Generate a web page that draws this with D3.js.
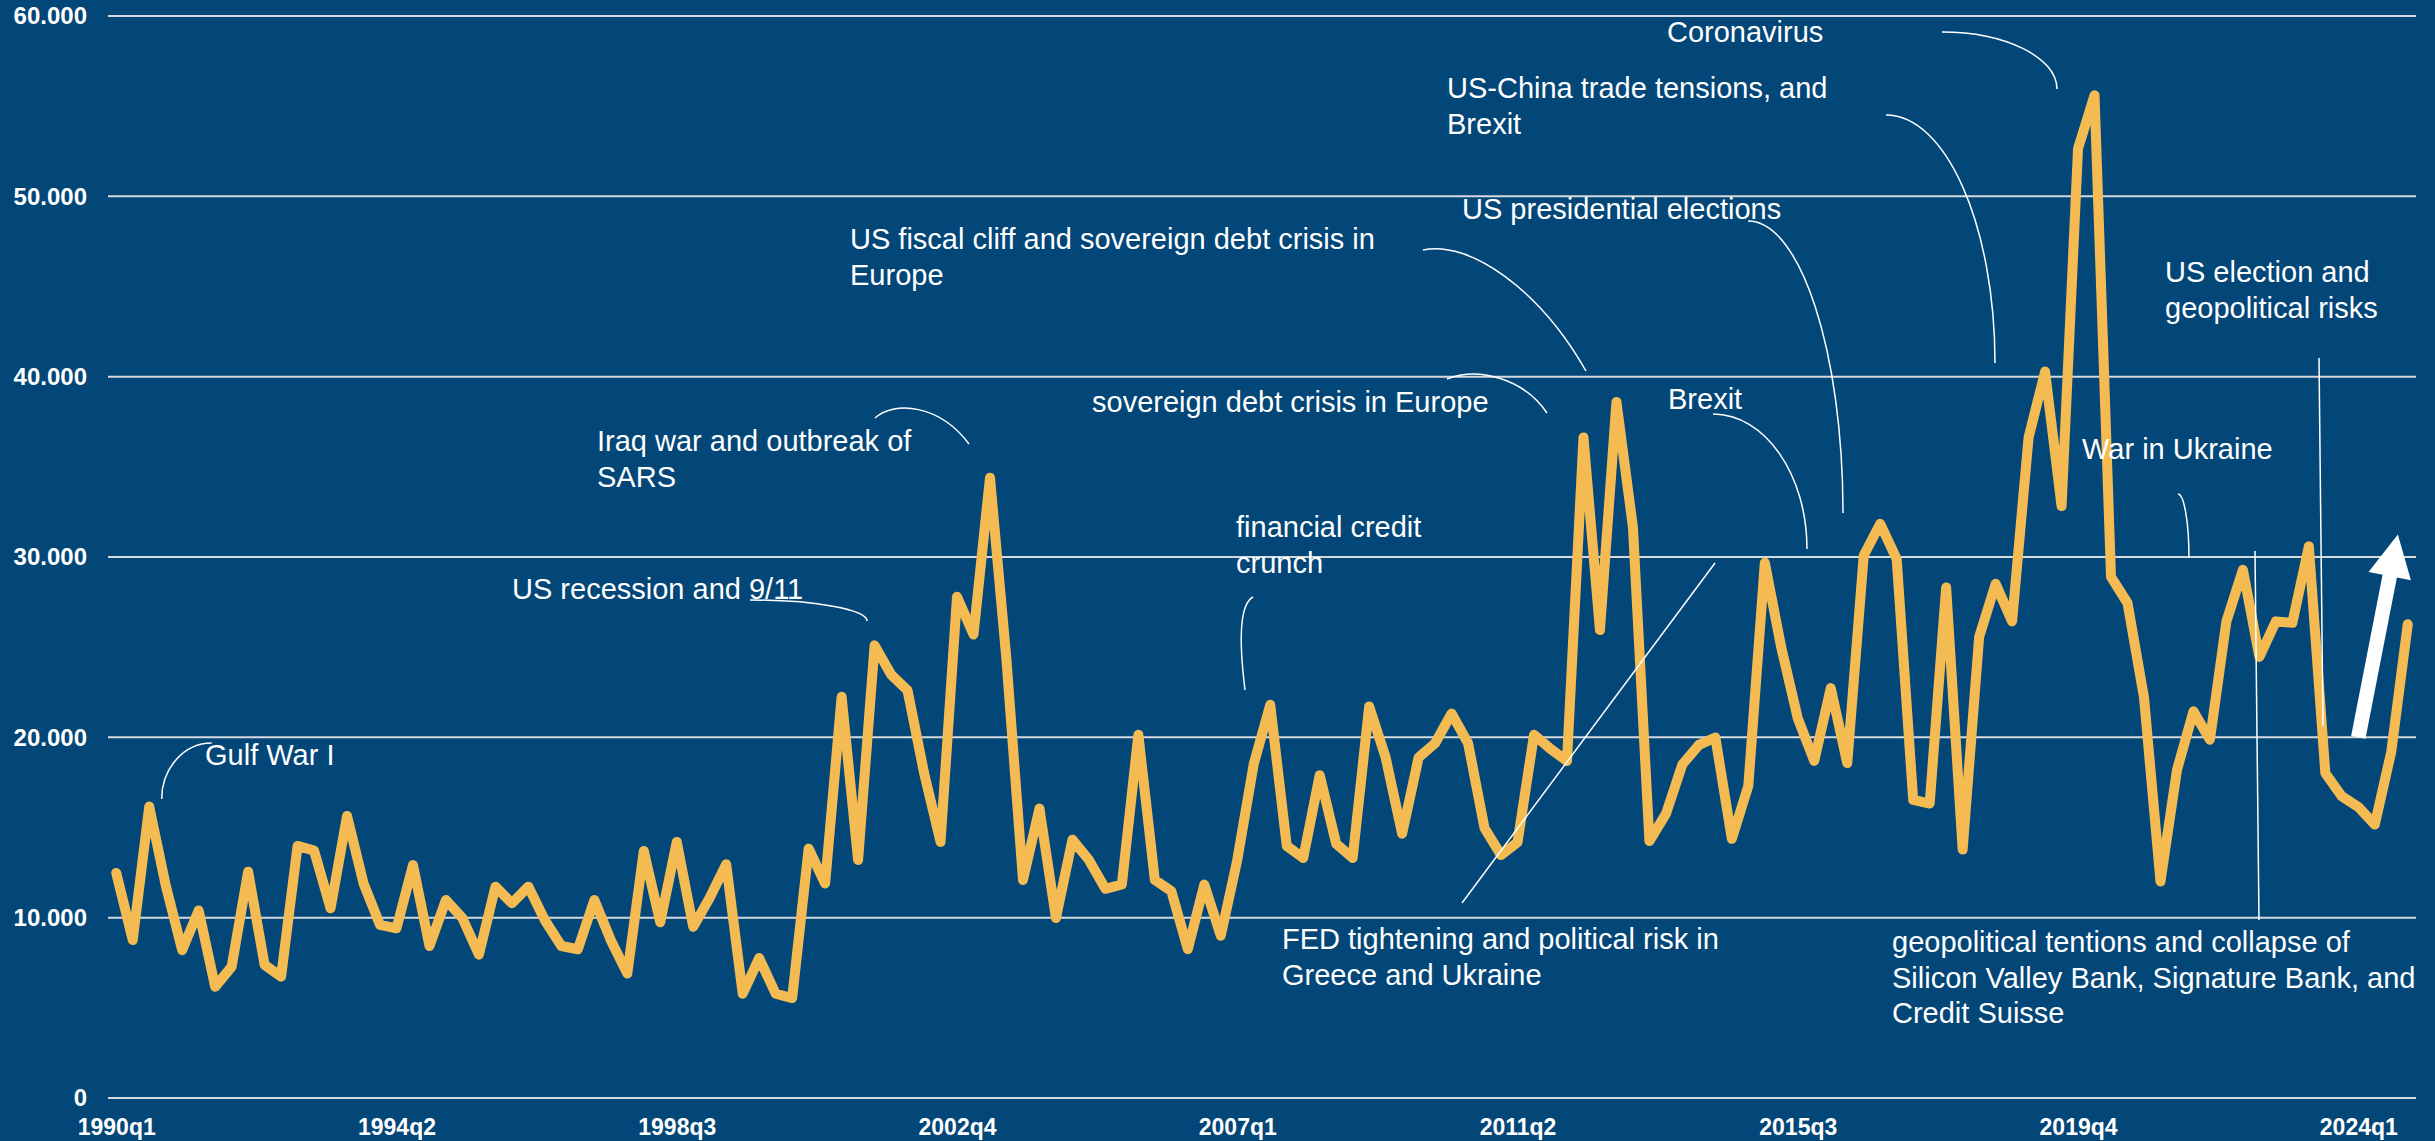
<!doctype html>
<html lang="en">
<head>
    <meta charset="UTF-8">
    <title>Uncertainty index</title>
    <script src="https://d3js.org/d3.v7.min.js"></script>
    <style>
        html, body { margin: 0; padding: 0; background: #034678; }
        svg { display: block; }
    </style>
</head>
<body>
<div id="chart"></div>
<script>

    // quarter categories 1990q1 .. 2024q4
    const years = d3.range(1990, 2025);
    const quarters = [];
    years.forEach(function (yr) {
        [1, 2, 3, 4].forEach(function (q) { quarters.push(yr + "q" + q); });
    });

    // index values, one per quarter
    const values = [
        12480, 8760, 16160, 11800, 8200, 10400, 6170, 7280, 12550, 7380,
        6730, 13980, 13720, 10520, 15640, 11900, 9600, 9410, 12920, 8430,
        10980, 9970, 7950, 11720, 10800, 11720, 9860, 8430, 8250, 10980,
        8750, 6900, 13700, 9740, 14200, 9490, 11100, 12960, 5780, 7760,
        5780, 5540, 13830, 11890, 22250, 13200, 25100, 23480, 22600, 18030,
        14200, 27800, 25700, 34400, 24300, 12090, 16050, 9980, 14320, 13200,
        11600, 11840, 20140, 12090, 11470, 8250, 11840, 9000, 13200, 18530,
        21800, 13980, 13310, 17900, 14100, 13310, 21710, 18880, 14650, 18880,
        19670, 21320, 19670, 14960, 13470, 14180, 20140, 19360, 18690, 36630,
        25950, 38600, 31650, 14250, 15750, 18500, 19580, 19990, 14370, 17320,
        29680, 24970, 21050, 18690, 22730, 18570, 30080, 31840, 29880, 16530,
        16330, 28310, 13780, 25560, 28510, 26430, 36630, 40280, 32820, 52650,
        55600, 28900, 27450, 22220, 12010, 18180, 21440, 19870, 26430, 29290,
        24460, 26430, 26350, 30590, 18020, 16730, 16140, 15160, 19200, 26270
    ];

    const yTicks = [0, 10000, 20000, 30000, 40000, 50000, 60000];
    const xTickLabels = ["1990q1", "1994q2", "1998q3", "2002q4", "2007q1", "2011q2", "2015q3", "2019q4", "2024q1"];

    // event labels (text lines)
    const events = [
        ["Gulf War I"],
        ["US recession and 9/11"],
        ["Iraq war and outbreak of", "SARS"],
        ["financial credit", "crunch"],
        ["sovereign debt crisis in Europe"],
        ["US fiscal cliff and sovereign debt crisis in", "Europe"],
        ["FED tightening and political risk in", "Greece and Ukraine"],
        ["US presidential elections"],
        ["US-China trade tensions, and", "Brexit"],
        ["Coronavirus"],
        ["Brexit"],
        ["geopolitical tentions and collapse of", "Silicon Valley Bank, Signature Bank, and", "Credit Suisse"],
        ["War in Ukraine"],
        ["US election and", "geopolitical risks"]
    ];

    // layout
    const W = 2435, H = 1141;
    const plotLeft = 108, plotRight = 2416, plotTop = 16, plotBottom = 1098;
    const bg = "#034678", lineColor = "#f4bb52", gridColor = "#d6d9de";

    // label positions (pixels) for the events above, same order
    const eventPos = [
        [205, 765], [512, 599], [597, 451], [1236, 537], [1092, 412], [850, 249],
        [1282, 949], [1462, 219], [1447, 98], [1667, 42], [1668, 409], [1892, 952],
        [2082, 459], [2165, 282]
    ];

    // quarter-ellipse connector: leaves horizontally, arrives vertically
    function qArc(x0, y0, x1, y1) {
        const k = 0.552;
        return "M" + x0 + "," + y0 + " C" + (x0 + k * (x1 - x0)) + "," + y0 + " " +
            x1 + "," + (y1 - k * (y1 - y0)) + " " + x1 + "," + y1;
    }

    const connectors = [
        qArc(211.7, 743, 161.7, 799),
        qArc(750, 600, 867, 621),
        "M875,418 C895,400 940,405 969,444",
        "M1253,597 C1238,605 1240,650 1245,690",
        "M1447,379 C1480,366 1525,380 1547,413",
        "M1423,250 C1470,240 1540,290 1586,371",
        "M1462,903 L1715,563",
        qArc(1748, 221, 1843, 513),
        qArc(1886, 115, 1995, 363),
        qArc(1942, 32, 2057, 89),
        qArc(1713, 414, 1807, 549),
        "M2255,551 L2259,920",
        qArc(2178, 494, 2189, 558),
        "M2319,358 L2323,726"
    ];

    const svg = d3.select("#chart").append("svg")
        .attr("width", W)
        .attr("height", H)
        .style("font-family", "'Liberation Sans', Arial, sans-serif");

    svg.append("rect").attr("width", W).attr("height", H).attr("fill", bg);

    const x = d3.scalePoint()
        .domain(quarters)
        .range([plotLeft, plotRight])
        .padding(0.5);

    const y = d3.scaleLinear()
        .domain([0, 60000])
        .range([plotBottom, plotTop]);

    const fmt = d3.formatLocale({decimal: ",", thousands: ".", grouping: [3], currency: ["", ""]}).format(",");

    //grid lines
    svg.append("g").selectAll("line")
        .data(yTicks)
        .enter()
        .append("line")
        .attr("x1", plotLeft)
        .attr("x2", plotRight)
        .attr("y1", function (d) { return y(d); })
        .attr("y2", function (d) { return y(d); })
        .attr("stroke", gridColor)
        .attr("stroke-width", 2);

    //y axis labels
    const yAxis = svg.append("g")
        .attr("transform", "translate(87,0)")
        .call(d3.axisLeft(y).tickValues(yTicks).tickFormat(fmt).tickSize(0).tickPadding(0));
    yAxis.select(".domain").remove();
    yAxis.selectAll("text")
        .attr("fill", "#fff")
        .style("font-size", "24px")
        .style("font-weight", "bold")
        .style("font-family", "'Liberation Sans', Arial, sans-serif");

    //x axis labels
    const xAxis = svg.append("g")
        .attr("transform", "translate(0," + plotBottom + ")")
        .call(d3.axisBottom(x).tickValues(xTickLabels).tickSize(0).tickPadding(21));
    xAxis.select(".domain").remove();
    xAxis.selectAll("text")
        .attr("fill", "#fff")
        .style("font-size", "23px")
        .style("font-weight", "bold")
        .style("font-family", "'Liberation Sans', Arial, sans-serif");

    //the series line
    const line = d3.line()
        .x(function (d, i) { return x(quarters[i]); })
        .y(function (d) { return y(d); });

    svg.append("path")
        .datum(values)
        .attr("d", line)
        .attr("fill", "none")
        .attr("stroke", lineColor)
        .attr("stroke-width", 10)
        .attr("stroke-linejoin", "round")
        .attr("stroke-linecap", "round");

    //connectors
    svg.append("g").selectAll("path")
        .data(connectors)
        .enter()
        .append("path")
        .attr("d", function (d) { return d; })
        .attr("fill", "none")
        .attr("stroke", "#fff")
        .attr("stroke-width", 1.5);

    //event labels
    const labels = svg.append("g").selectAll("text")
        .data(events)
        .enter()
        .append("text")
        .attr("x", function (d, i) { return eventPos[i][0]; })
        .attr("y", function (d, i) { return eventPos[i][1]; })
        .attr("fill", "#fff")
        .style("font-size", "29px");

    labels.selectAll("tspan")
        .data(function (d, i) { return d.map(function (t) { return {t: t, x: eventPos[i][0]}; }); })
        .enter()
        .append("tspan")
        .attr("x", function (d) { return d.x; })
        .attr("dy", function (d, j) { return j === 0 ? 0 : 35.5; })
        .text(function (d) { return d.t; });

    //white arrow pointing up at the end
    const base = [x("2024q1"), y(20000)], tip = [x("2024q3") + 0.4 * x.step(), y(31250)];
    const dx = tip[0] - base[0], dy = tip[1] - base[1];
    const len = Math.sqrt(dx * dx + dy * dy);
    const ux = dx / len, uy = dy / len, nx = -uy, ny = ux;
    const shaft = 7.3, head = 21.6, headLen = 42.5;
    const hb = [tip[0] - ux * headLen, tip[1] - uy * headLen];
    const pts = [
        [base[0] + nx * shaft, base[1] + ny * shaft],
        [hb[0] + nx * shaft, hb[1] + ny * shaft],
        [hb[0] + nx * head, hb[1] + ny * head],
        tip,
        [hb[0] - nx * head, hb[1] - ny * head],
        [hb[0] - nx * shaft, hb[1] - ny * shaft],
        [base[0] - nx * shaft, base[1] - ny * shaft]
    ];
    svg.append("polygon")
        .attr("points", pts.map(function (p) { return p.join(","); }).join(" "))
        .attr("fill", "#fff");

</script>
</body>
</html>
